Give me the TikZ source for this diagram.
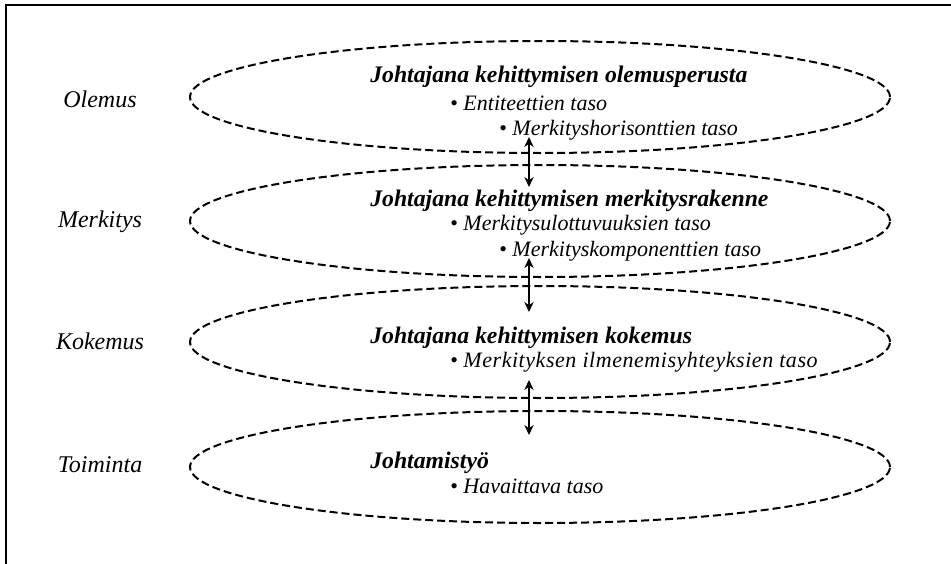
\documentclass[tikz,border=0pt]{standalone}
\usepackage{fontspec}
\setmainfont{Liberation Serif}
\usetikzlibrary{arrows.meta,shapes.geometric}
\begin{document}
\begin{tikzpicture}[x=0.75pt,y=-0.75pt,
  frameline/.style={line width=1.1pt},
  layer/.style={draw,line width=1.5pt,dash pattern=on 6pt off 3pt,
    ellipse,minimum width=525pt,minimum height=84pt,inner sep=0pt},
  levellabel/.style={font=\fontsize{18}{21}\selectfont\itshape,anchor=center},
  heading/.style={font=\fontsize{17.8}{21}\selectfont\bfseries\itshape,anchor=base west,inner sep=0pt},
  item/.style={font=\fontsize{16.5}{20}\selectfont,anchor=base west,inner sep=0pt},
  link/.style={line width=1.1pt,{Stealth[length=7.5pt,width=7pt]}-{Stealth[length=7.5pt,width=7pt]}}
]
\useasboundingbox (0,0) rectangle (951,564);
% open frame: top and left edges
\coordinate (ftl) at (6,5);
\coordinate (ftr) at (951,5);
\coordinate (fbl) at (6,564);
\draw[frameline] (fbl) -- (ftl) -- (ftr);

% the four dashed layers
\node[layer] (e1) at (540,97) {};
\node[layer] (e2) at (540,221) {};
\node[layer] (e3) at (540,342) {};
\node[layer] (e4) at (540,467) {};

% level names
\node[levellabel] (l1) at (100,99) {Olemus};
\node[levellabel] (l2) at (100,222) {Merkitys};
\node[levellabel] (l3) at (100,341) {Kokemus};
\node[levellabel] (l4) at (100,465) {Toiminta};

% contents of each layer
\node[heading] (h1) at (370,82) {Johtajana kehittymisen olemusperusta};
\node[item] (a1) at (450,110) {\textbullet\ \textit{Entiteettien taso}};
\node[item] (b1) at (499,135) {\textbullet\ \textit{Merkityshorisonttien taso}};

\node[heading] (h2) at (370,206) {Johtajana kehittymisen merkitysrakenne};
\node[item] (a2) at (450,230) {\textbullet\ \textit{Merkitysulottuvuuksien taso}};
\node[item] (b2) at (499,256) {\textbullet\ \textit{Merkityskomponenttien taso}};

\node[heading] (h3) at (370,343) {Johtajana kehittymisen kokemus};
\node[item] (a3) at (450,367) {\textbullet\ \textit{\addfontfeature{LetterSpace=2.5}Merkityksen ilmenemisyhteyksien taso}};

\node[heading] (h4) at (370,468) {Johtamistyö};
\node[item] (a4) at (450,493) {\textbullet\ \textit{Havaittava taso}};

% links between neighbouring layers
\coordinate (u1) at (529,137);
\coordinate (d1) at (529,187);
\coordinate (u2) at (529,258);
\coordinate (d2) at (529,312);
\coordinate (u3) at (529,380);
\coordinate (d3) at (529,435);
\draw[link] (u1) -- (d1);
\draw[link] (u2) -- (d2);
\draw[link] (u3) -- (d3);
\end{tikzpicture}
\end{document}
